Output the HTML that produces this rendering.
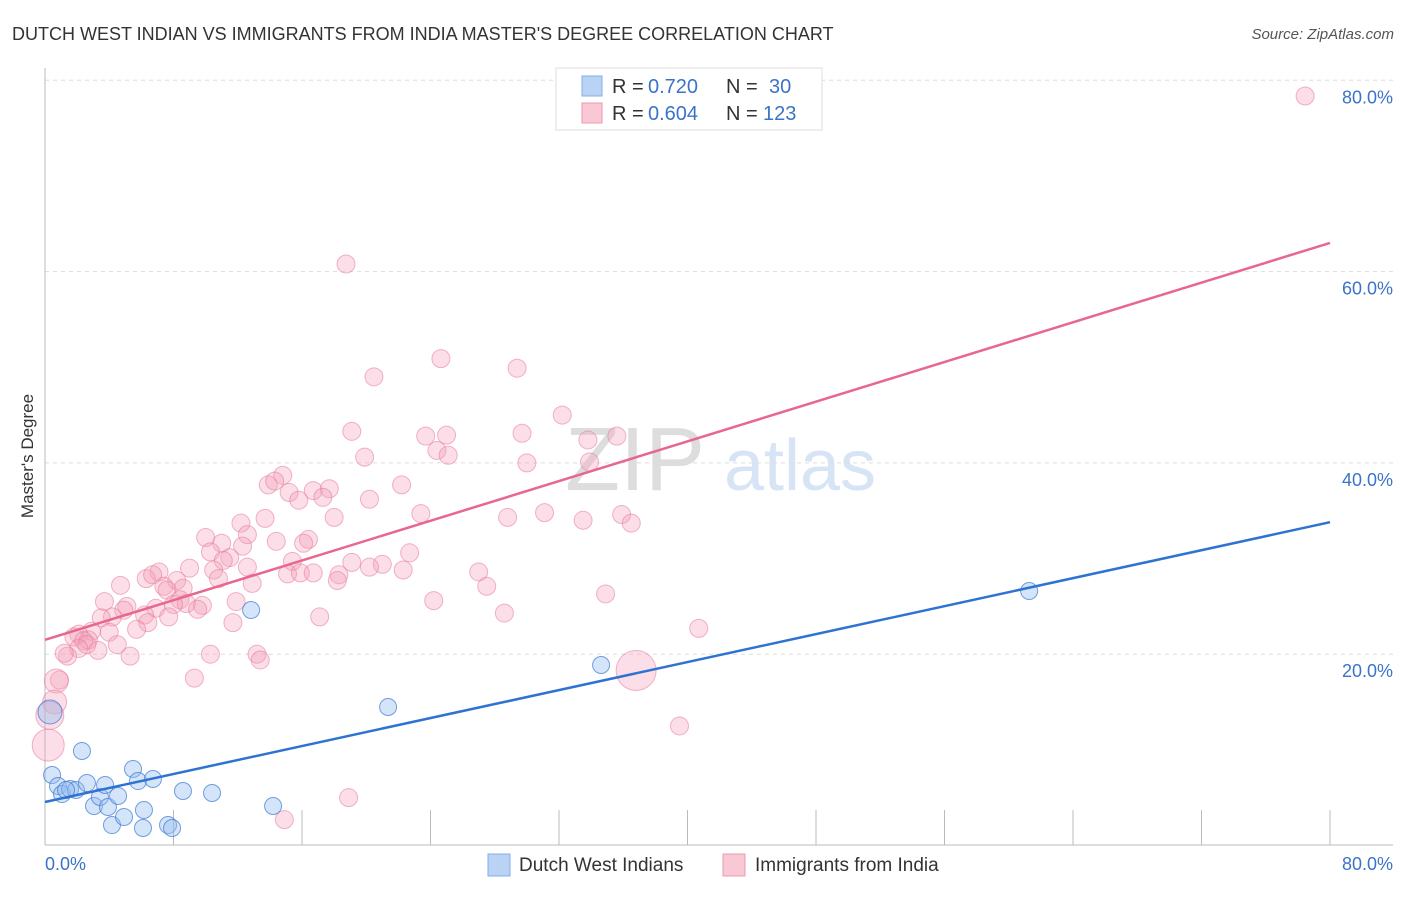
<!DOCTYPE html>
<html><head><meta charset="utf-8"><style>
body{margin:0;background:#fff;font-family:"Liberation Sans",sans-serif;}
svg text{font-family:"Liberation Sans",sans-serif;}
</style></head><body>
<svg id="chart" width="1406" height="892" viewBox="0 0 1406 892">
<text x="12" y="40" font-size="18" fill="#333">DUTCH WEST INDIAN VS IMMIGRANTS FROM INDIA MASTER'S DEGREE CORRELATION CHART</text>
<text x="1394" y="39" font-size="15" font-style="italic" fill="#555" text-anchor="end">Source: ZipAtlas.com</text>
<text x="33" y="456" font-size="17" fill="#333" text-anchor="middle" transform="rotate(-90 33 456)">Master's Degree</text>
<text x="635" y="490" font-size="90" fill="#ddd" font-family="Liberation Serif" text-anchor="middle">ZIP</text>
<text x="800" y="490" font-size="72" fill="#d6e4f5" text-anchor="middle">atlas</text>
<g id="axes"></g>
<g id="pts"></g>
<g id="lines"></g>
<g>
<rect x="556" y="68" width="266" height="62" fill="#fff" stroke="#ddd"/>
<rect x="582" y="76" width="20" height="20" fill="#b9d3f5" stroke="#85aee5"/>
<text x="612" y="93" font-size="20" fill="#333">R =</text><text x="648" y="93" font-size="20" fill="#3b73c9">0.720</text>
<text x="726" y="93" font-size="20" fill="#333">N =</text><text x="769" y="93" font-size="20" fill="#3b73c9">30</text>
<rect x="582" y="103" width="20" height="20" fill="#f8c8d5" stroke="#ec9ab0"/>
<text x="612" y="120" font-size="20" fill="#333">R =</text><text x="648" y="120" font-size="20" fill="#3b73c9">0.604</text>
<text x="726" y="120" font-size="20" fill="#333">N =</text><text x="763" y="120" font-size="20" fill="#3b73c9">123</text>
</g>
<g>
<rect x="488" y="854" width="22" height="22" fill="#b9d3f5" stroke="#85aee5"/>
<text x="519" y="871" font-size="19" fill="#333">Dutch West Indians</text>
<rect x="723" y="854" width="22" height="22" fill="#f8c8d5" stroke="#ec9ab0"/>
<text x="755" y="871" font-size="19" fill="#333">Immigrants from India</text>
</g>
</svg>
<script>
const yTicks=[20,40,60,80];
const yTickLabels=["20.0%","40.0%","60.0%","80.0%"];
const xTickVals=[8,16,24,32,40,48,56,64,72,80];
const blueX=[0.31,2.30,0.44,0.81,1.06,1.56,1.93,2.61,3.05,3.42,3.74,3.92,4.17,4.55,4.92,5.48,5.79,6.16,6.10,6.72,7.66,7.91,8.59,10.40,12.83,14.20,21.36,34.62,61.27,1.31];
const blueY=[13.96,9.88,7.37,6.22,5.38,5.91,5.80,6.53,4.13,5.07,6.33,4.03,2.14,5.18,2.98,8.00,6.74,3.71,1.83,6.95,2.14,1.83,5.70,5.49,24.62,4.13,14.48,18.87,26.61,5.80];
const pinkX=[78.45,18.74,20.48,24.65,29.39,32.2,19.1,23.7,25.0,29.7,33.8,35.6,24.4,25.1,19.9,30.0,33.9,14.8,13.9,14.3,22.2,15.2,16.7,17.7,17.3,15.8,20.2,23.4,28.8,31.1,33.5,35.9,36.5,18.0,13.7,12.2,10.0,12.6,11.0,14.4,16.4,16.1,10.3,12.3,22.7,11.5,11.1,19.1,21.0,15.4,20.2,27.0,18.3,22.3,10.5,12.6,7.1,9.0,6.3,6.7,15.1,15.9,16.7,10.8,12.9,18.2,8.2,4.7,7.4,8.6,27.5,7.6,11.9,8.4,8.8,9.8,8.0,9.5,6.9,5.1,4.9,3.7,24.2,34.9,28.6,17.1,7.7,6.2,4.2,3.5,6.4,11.7,5.7,4.0,2.9,2.1,1.8,2.7,2.4,2.6,4.5,40.7,3.3,2.1,1.4,1.2,5.3,10.3,13.2,13.4,9.3,0.9,0.7,0.6,0.3,0.2,36.8,39.5,18.9,14.9];
const pinkY=[78.36,60.8,49.0,50.9,49.9,45.0,43.3,42.8,42.9,43.1,42.4,42.8,41.3,40.8,40.6,40.0,40.1,38.7,37.7,38.1,37.7,36.9,37.1,37.3,36.4,36.1,36.2,34.7,34.3,34.8,34.0,34.6,33.7,34.3,34.2,33.7,32.2,32.5,31.6,31.8,32.0,31.6,30.7,31.3,30.6,30.1,29.8,29.6,29.4,29.7,29.1,28.6,28.3,28.8,28.8,29.1,28.6,29.0,27.9,28.3,28.4,28.5,28.5,27.9,27.4,27.7,27.7,27.2,27.1,26.9,27.1,26.7,25.5,25.7,25.3,25.1,25.2,24.7,24.8,25.0,24.6,25.5,25.6,26.3,24.3,23.9,23.9,24.1,23.9,23.8,23.3,23.3,22.6,22.3,22.4,22.1,21.8,21.5,21.4,21.0,21.0,22.7,20.4,20.6,19.8,20.1,19.8,20.0,20.0,19.4,17.5,17.3,17.2,15.0,13.6,10.5,18.3,12.5,5.0,2.7];
const pinkR=[9,9,9,9,9,9,9,9,9,9,9,9,9,9,9,9,9,9,9,9,9,9,9,9,9,9,9,9,9,9,9,9,9,9,9,9,9,9,9,9,9,9,9,9,9,9,9,9,9,9,9,9,9,9,9,9,9,9,9,9,9,9,9,9,9,9,9,9,9,9,9,9,9,9,9,9,9,9,9,9,9,9,9,9,9,9,9,9,9,9,9,9,9,9,9,9,9,9,9,9,9,9,9,9,9,9,9,9,9,9,9,9,12,12,14,16,20,9,9,9,9];
const blueTrend=[4.55,33.8];
const pinkTrend=[21.5,63.0];
const X=v=>45+v/80*1285;
const Y=v=>845.5-v/20*191.3;
const NS="http://www.w3.org/2000/svg";
function mk(tag,attrs,parent){const e=document.createElementNS(NS,tag);for(const k in attrs)e.setAttribute(k,attrs[k]);parent.appendChild(e);return e;}
const axes=document.getElementById('axes');
yTicks.forEach((t,i)=>{
 const g=mk('line',{x1:45,x2:1393,y1:Y(t),y2:Y(t),stroke:'#ddd','stroke-dasharray':'4 4'},axes);
 
 
 const l=mk('text',{x:1393,y:Y(t)+23,'font-size':18,fill:'#3b73c9','text-anchor':'end'},axes);
 l.textContent=yTickLabels[i];
 
 
});
const a1=mk('line',{x1:45,x2:45,y1:68,y2:845,stroke:'#bbb'},axes);


const a2=mk('line',{x1:45,x2:1393,y1:845,y2:845,stroke:'#bbb'},axes);


xTickVals.forEach(t=>{
 const tk=mk('line',{x1:X(t),x2:X(t),y1:810,y2:845,stroke:'#bbb'},axes);
 
 
});
const x0=mk('text',{x:45,y:870,'font-size':18,fill:'#3b73c9'},axes);x0.textContent='0.0%';


const x1=mk('text',{x:1393,y:870,'font-size':18,fill:'#3b73c9','text-anchor':'end'},axes);x1.textContent='80.0%';


const pts=document.getElementById('pts');
pinkX.forEach((x,i)=>{
 const c=mk('circle',{cx:X(x),cy:Y(pinkY[i]),r:pinkR[i],fill:'rgba(244,160,185,0.35)',stroke:'rgba(232,120,155,0.55)','stroke-width':1},pts);
 
 
});
blueX.forEach((x,i)=>{
 const c=mk('circle',{cx:X(x),cy:Y(blueY[i]),r:i===0?12:8.5,fill:'rgba(150,190,240,0.4)',stroke:'rgba(60,120,210,0.7)','stroke-width':1},pts);
 
 
});
const lines=document.getElementById('lines');
const pl=mk('line',{x1:X(0),y1:Y(pinkTrend[0]),x2:X(80),y2:Y(pinkTrend[1]),stroke:'#e8678f','stroke-width':2.5},lines);


const bl=mk('line',{x1:X(0),y1:Y(blueTrend[0]),x2:X(80),y2:Y(blueTrend[1]),stroke:'#2e72d2','stroke-width':2.5},lines);


</script>
</body></html>
